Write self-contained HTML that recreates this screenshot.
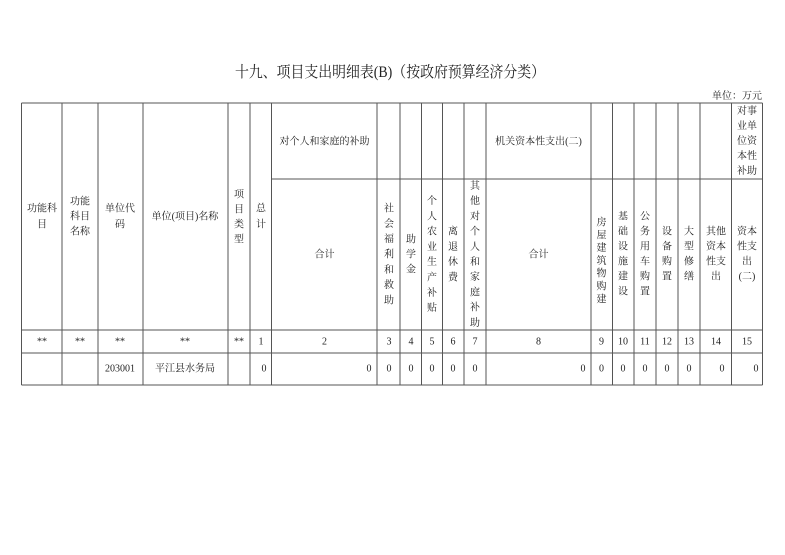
<!DOCTYPE html>
<html><head><meta charset="utf-8"><style>
html,body{margin:0;padding:0;background:#fff;}
svg{display:block;}
text{font-family:"Liberation Serif","Noto Serif CJK SC",serif;fill:#222;}
</style></head><body>
<svg width="785" height="555" xmlns="http://www.w3.org/2000/svg">
<rect width="785" height="555" fill="#fff"/>
<text x="235" y="77" font-size="15.5" textLength="310" lengthAdjust="spacingAndGlyphs">十九、项目支出明细表(B)（按政府预算经济分类）</text>
<text x="762" y="99" font-size="10" text-anchor="end">单位：万元</text>
<g stroke="#555" stroke-width="1" fill="none">
<line x1="21.5" y1="103" x2="762.5" y2="103"/>
<line x1="271.5" y1="179" x2="762.5" y2="179"/>
<line x1="21.5" y1="330" x2="762.5" y2="330"/>
<line x1="21.5" y1="353" x2="762.5" y2="353"/>
<line x1="21.5" y1="385" x2="762.5" y2="385"/>
<line x1="21.5" y1="103" x2="21.5" y2="385"/>
<line x1="62" y1="103" x2="62" y2="385"/>
<line x1="98" y1="103" x2="98" y2="385"/>
<line x1="143" y1="103" x2="143" y2="385"/>
<line x1="228" y1="103" x2="228" y2="385"/>
<line x1="250" y1="103" x2="250" y2="385"/>
<line x1="271.5" y1="103" x2="271.5" y2="385"/>
<line x1="377" y1="103" x2="377" y2="385"/>
<line x1="400" y1="103" x2="400" y2="385"/>
<line x1="421.5" y1="103" x2="421.5" y2="385"/>
<line x1="442.5" y1="103" x2="442.5" y2="385"/>
<line x1="464" y1="103" x2="464" y2="385"/>
<line x1="486" y1="103" x2="486" y2="385"/>
<line x1="591" y1="103" x2="591" y2="385"/>
<line x1="612.5" y1="103" x2="612.5" y2="385"/>
<line x1="634" y1="103" x2="634" y2="385"/>
<line x1="656" y1="103" x2="656" y2="385"/>
<line x1="678" y1="103" x2="678" y2="385"/>
<line x1="700" y1="103" x2="700" y2="385"/>
<line x1="731.5" y1="103" x2="731.5" y2="385"/>
<line x1="762.5" y1="103" x2="762.5" y2="385"/>
</g>
<g font-size="10" text-anchor="middle" dominant-baseline="central">
<text x="42" y="209">功能科</text><text x="42" y="225">目</text>
<text x="80" y="202">功能</text><text x="80" y="217">科目</text><text x="80" y="232">名称</text>
<text x="120" y="209">单位代</text><text x="120" y="225">码</text>
<text x="185" y="217">单位(项目)名称</text>
<text x="239" y="195">项</text><text x="239" y="210">目</text><text x="239" y="225">类</text><text x="239" y="240">型</text>
<text x="261" y="209">总</text><text x="261" y="225">计</text>
<text x="324.5" y="142">对个人和家庭的补助</text>
<text x="324.5" y="255">合计</text>
<text x="538.5" y="142">机关资本性支出(二)</text>
<text x="538.5" y="255">合计</text>
<g>
<text x="389" y="209">社</text><text x="389" y="224.3">会</text><text x="389" y="239.6">福</text><text x="389" y="255">利</text><text x="389" y="270.3">和</text><text x="389" y="285.6">救</text><text x="389" y="301">助</text>
<text x="411" y="240">助</text><text x="411" y="255">学</text><text x="411" y="270">金</text>
<text x="432" y="201.5">个</text><text x="432" y="216.8">人</text><text x="432" y="232.1">农</text><text x="432" y="247.4">业</text><text x="432" y="262.7">生</text><text x="432" y="278">产</text><text x="432" y="293.3">补</text><text x="432" y="308.6">贴</text>
<text x="453" y="232">离</text><text x="453" y="247.3">退</text><text x="453" y="262.6">休</text><text x="453" y="278">费</text>
<text x="475" y="186.5">其</text><text x="475" y="201.7">他</text><text x="475" y="216.9">对</text><text x="475" y="232.1">个</text><text x="475" y="247.3">人</text><text x="475" y="262.5">和</text><text x="475" y="277.7">家</text><text x="475" y="292.9">庭</text><text x="475" y="308.1">补</text><text x="475" y="323.3">助</text>
<text x="601.5" y="223">房</text><text x="601.5" y="235.8">屋</text><text x="601.5" y="248.6">建</text><text x="601.5" y="261.4">筑</text><text x="601.5" y="274.2">物</text><text x="601.5" y="287">购</text><text x="601.5" y="299.8">建</text>
<text x="623" y="217">基</text><text x="623" y="232">础</text><text x="623" y="247">设</text><text x="623" y="262">施</text><text x="623" y="277">建</text><text x="623" y="292">设</text>
<text x="645" y="217">公</text><text x="645" y="232">务</text><text x="645" y="247">用</text><text x="645" y="262">车</text><text x="645" y="277">购</text><text x="645" y="292">置</text>
<text x="667" y="232">设</text><text x="667" y="247">备</text><text x="667" y="262">购</text><text x="667" y="277">置</text>
<text x="689" y="232">大</text><text x="689" y="247">型</text><text x="689" y="262">修</text><text x="689" y="277">缮</text>
<text x="716" y="232">其他</text><text x="716" y="247">资本</text><text x="716" y="262">性支</text><text x="716" y="277">出</text>
<text x="747" y="111.7">对事</text><text x="747" y="126.7">业单</text><text x="747" y="141.7">位资</text><text x="747" y="156.7">本性</text><text x="747" y="171.7">补助</text>
<text x="747" y="232">资本</text><text x="747" y="247">性支</text><text x="747" y="262">出</text><text x="747" y="277">(二)</text>
</g>
<g>
<text x="42" y="342">**</text><text x="80" y="342">**</text><text x="120" y="342">**</text><text x="185" y="342">**</text><text x="239" y="342">**</text>
<text x="261" y="342">1</text><text x="324.5" y="342">2</text><text x="389" y="342">3</text><text x="411" y="342">4</text><text x="432" y="342">5</text><text x="453" y="342">6</text><text x="475" y="342">7</text><text x="538.5" y="342">8</text><text x="601.5" y="342">9</text><text x="623" y="342">10</text><text x="645" y="342">11</text><text x="667" y="342">12</text><text x="689" y="342">13</text><text x="716" y="342">14</text><text x="747" y="342">15</text>
</g>
<g>
<text x="120" y="369">203001</text><text x="185" y="369">平江县水务局</text>
<text x="264" y="369">0</text><text x="369" y="369">0</text><text x="389" y="369">0</text><text x="411" y="369">0</text><text x="432" y="369">0</text><text x="453" y="369">0</text><text x="475" y="369">0</text><text x="583" y="369">0</text><text x="601.5" y="369">0</text><text x="623" y="369">0</text><text x="645" y="369">0</text><text x="667" y="369">0</text><text x="689" y="369">0</text><text x="722" y="369">0</text><text x="756" y="369">0</text>
</g>
</g>
</svg>
</body></html>
